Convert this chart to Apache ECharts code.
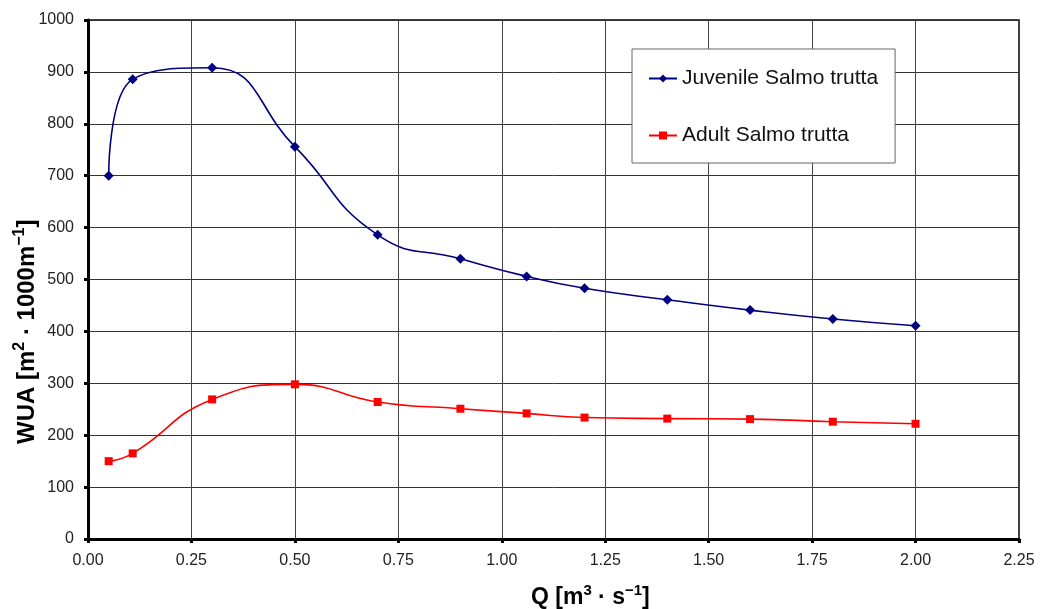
<!DOCTYPE html>
<html><head><meta charset="utf-8">
<script src="https://cdn.jsdelivr.net/npm/echarts@6/dist/echarts.min.js"></script>
<style>html,body{margin:0;padding:0;background:#fff}#c{width:1049px;height:609px}</style>
</head><body><div id="c"></div>
<script>
const qValues = [0.05, 0.108, 0.3, 0.5, 0.7, 0.9, 1.06, 1.2, 1.4, 1.6, 1.8, 2.0];
const juvenile = [700, 886, 908, 756, 586, 540, 506, 483, 461, 441, 424, 411];
const adult = [150, 165, 269, 298, 264, 251, 242, 234, 232, 231, 226, 222];
const seriesNames = ['Juvenile Salmo trutta', 'Adult Salmo trutta'];

const chart = echarts.init(document.getElementById('c'));
const font = 'Liberation Sans, Arial, sans-serif';
function titleRich(size) {
  return {
    b: {fontFamily: font, fontSize: size, fontWeight: 'bold', color: '#111', lineHeight: size + 3, verticalAlign: 'bottom'},
    s: {fontFamily: font, fontSize: Math.round(size * 0.65), fontWeight: 'bold', color: '#111', lineHeight: size + 3, verticalAlign: 'top', padding: [0, 0, Math.round(size * 0.4), 0]}
  };
}
chart.setOption({
  animation: false,
  grid: {left: 88, right: 30, top: 20, bottom: 70, show: true, borderColor: '#000', borderWidth: 1.5, backgroundColor: 'transparent'},
  legend: {
    orient: 'vertical', left: 632, top: 49,
    backgroundColor: '#fff', borderColor: '#666', borderWidth: 1,
    padding: [19, 17, 17, 16], itemGap: 36, itemWidth: 28, itemHeight: 10,
    textStyle: {fontFamily: font, fontSize: 21, color: '#111'},
    data: seriesNames
  },
  xAxis: {
    type: 'value', min: 0, max: 2.25, interval: 0.25,
    axisLine: {show: true, onZero: false, lineStyle: {color: '#000', width: 3}},
    axisTick: {show: true, length: 4, lineStyle: {color: '#000', width: 3}},
    axisLabel: {fontFamily: font, fontSize: 16, color: '#222', margin: 14, formatter: v => v.toFixed(2)},
    splitLine: {show: true, lineStyle: {color: '#444', width: 1}}
  },
  yAxis: {
    type: 'value', min: 0, max: 1000, interval: 100,
    axisLine: {show: true, lineStyle: {color: '#000', width: 3}},
    axisTick: {show: true, length: 4, lineStyle: {color: '#000', width: 3}},
    axisLabel: {fontFamily: font, fontSize: 16, color: '#222', margin: 14, formatter: v => String(v)},
    splitLine: {show: true, lineStyle: {color: '#333', width: 1}}
  },
  graphic: [
    {type: 'text', left: 531, top: 583, style: {
      text: '{b|Q [m}{s|3}{b| · s}{s|−1}{b|]}', fontFamily: font, rich: titleRich(23)
    }},
    {type: 'text', x: 12, y: 444, rotation: Math.PI / 2, style: {
      text: '{b|WUA [m}{s|2}{b| · 1000m}{s|−1}{b|]}', fontFamily: font, rich: titleRich(24)
    }}
  ],
  series: [
    {name: seriesNames[0], type: 'line', smooth: 0.5, data: qValues.map((q, i) => [q, juvenile[i]]),
     symbol: 'diamond', symbolSize: 10, itemStyle: {color: '#000080'}, lineStyle: {color: '#000080', width: 1.6}},
    {name: seriesNames[1], type: 'line', smooth: 0.5, data: qValues.map((q, i) => [q, adult[i]]),
     symbol: 'rect', symbolSize: 8, itemStyle: {color: '#ff0000'}, lineStyle: {color: '#ff0000', width: 1.6}}
  ]
});
</script></body></html>
